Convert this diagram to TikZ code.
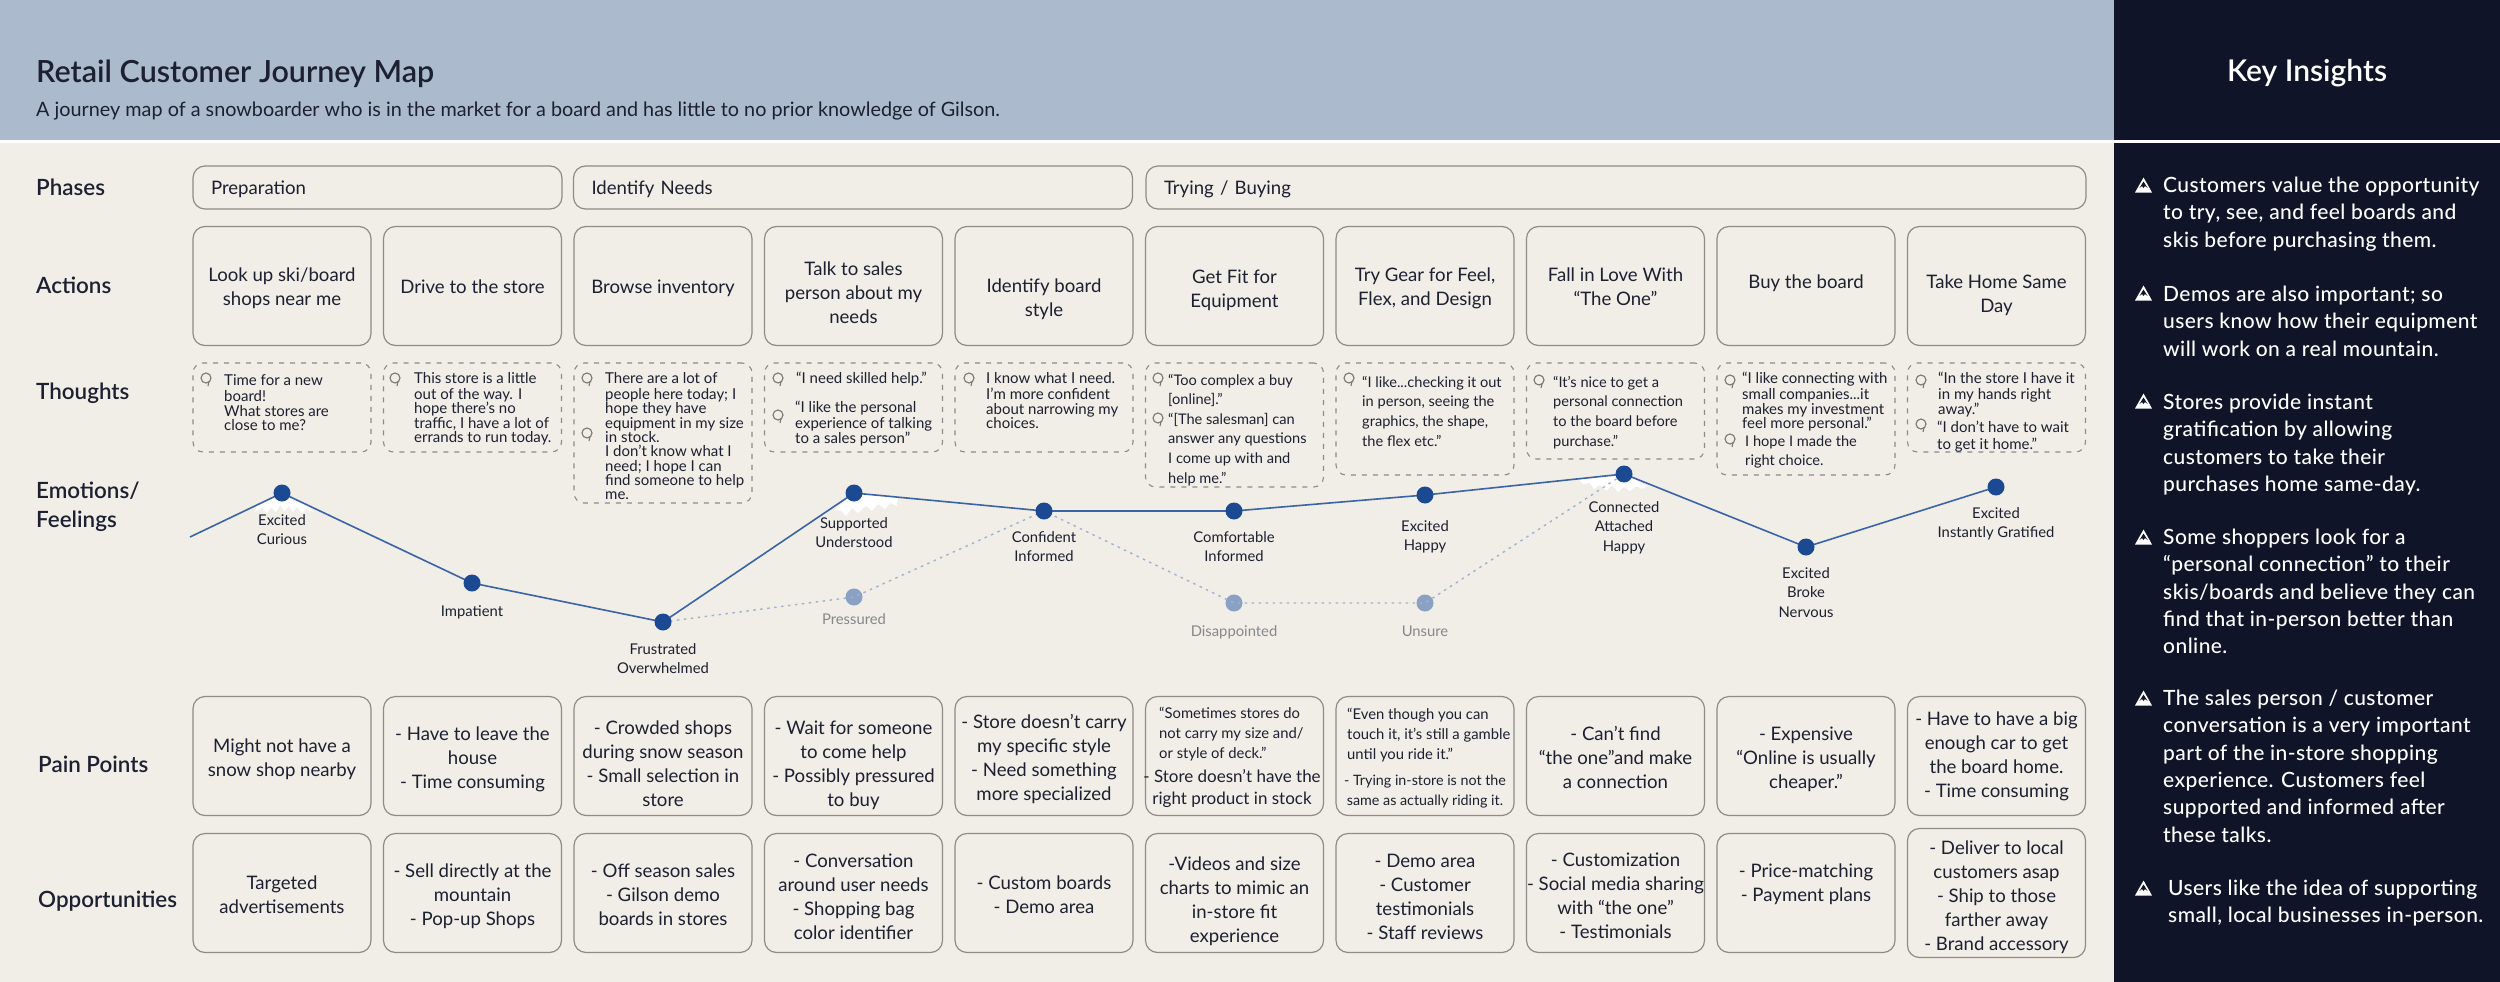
\documentclass[tikz,border=0pt]{standalone}
\usepackage{fontspec}
\setmainfont{Lato}
\newfontfamily\medfont{Lato Medium}
\newfontfamily\semifont{Lato Semibold}
\usetikzlibrary{backgrounds}
\definecolor{hdr}{HTML}{ABBBCD}
\definecolor{paper}{HTML}{F1EDE7}
\definecolor{navy}{HTML}{101428}
\definecolor{ink}{HTML}{1C2030}
\definecolor{edgegrey}{HTML}{8E8C87}
\definecolor{jline}{HTML}{3A64A6}
\definecolor{jdot}{HTML}{1B4A92}
\definecolor{pdot}{HTML}{8BA1C4}
\definecolor{pline}{HTML}{9FB2CF}
\definecolor{plabel}{HTML}{85888E}
\tikzset{
  x=1pt,y=-1pt,
  cardbox/.style={draw=edgegrey,line width=1.2pt,rounded corners=12pt,minimum width=178pt,minimum height=119pt,inner sep=0pt,align=center,text=ink,font=\fontsize{18.6}{24}\selectfont},
  phasebox/.style={draw=edgegrey,line width=1.2pt,rounded corners=12pt,minimum height=43pt,inner ysep=0pt,inner xsep=18pt,align=left,text=ink,font=\fontsize{18.6}{24}\selectfont},
  thoughtbox/.style={draw=edgegrey,line width=1.1pt,rounded corners=10pt,dash pattern=on 5pt off 6pt,minimum width=178pt,inner sep=0pt},
  dotdark/.style={circle,fill=jdot,minimum size=17pt,inner sep=0pt},
  dotpale/.style={circle,fill=pdot,minimum size=17pt,inner sep=0pt},
  jlink/.style={draw=jline,line width=1.6pt},
  plink/.style={draw=pline,line width=1.4pt,dash pattern=on 2.5pt off 4.5pt},
  rowlabel/.style={anchor=west,inner sep=0pt,text=ink,font=\semifont\fontsize{22.4}{24}\selectfont},
  snowcap/.style={fill=white,draw=none}
}
% card: vertical text offset (px, + is down), name, x, y, text
\newlength\cardtop\newlength\cardbot
\newcommand\card[5]{%
  \ifdim #1pt>0pt \setlength\cardtop{\dimexpr 16.8pt+2\dimexpr #1pt\relax\relax}\setlength\cardbot{7.2pt}%
  \else \setlength\cardtop{16.8pt}\setlength\cardbot{\dimexpr 7.2pt-2\dimexpr #1pt\relax\relax}\fi
  \node[cardbox] (#2) at (#3,#4) {\rule{0pt}{\cardtop}#5\rule[-\cardbot]{0pt}{\cardbot}};}
\newcommand\txtL[6]{\node[anchor=north west,inner sep=0pt,align=left,text=ink,yshift={(0.7*#5-0.4*#4)*1pt},font={\fontsize{#4}{#5}\selectfont}] (#1) at (#2,#3) {\strut #6};}
\newcommand\txtC[6]{\node[anchor=north,inner sep=0pt,align=center,text=ink,yshift={(0.7*#5-0.4*#4)*1pt},font={\fontsize{#4}{#5}\selectfont}] (#1) at (#2,#3) {\strut #6};}
\newcommand\bubble[2]{\draw[edgegrey!85!black,line width=1.1pt] (#1,#2) circle (5pt); \draw[edgegrey!85!black,line width=1.1pt] (#1+3,#2+3.5) -- (#1+2,#2+8);}
\newcommand\peak[2]{\fill[white] (#1,#2-7.5) -- (#1+8.5,#2+7.5) -- (#1-8.5,#2+7.5) -- cycle;
  \fill[navy] (#1,#2-3.5) -- (#1+4,#2+3) -- (#1+1.5,#2+1) -- (#1,#2+3) -- (#1-1.5,#2+1) -- (#1-4,#2+3) -- cycle;}
\newcommand\insight[4]{\node[anchor=north west,inner sep=0pt,align=left,text=white,yshift=11pt,font={\medfont\fontsize{21}{27.4}\selectfont\addfontfeature{LetterSpace=2}}] (#1) at (#2,#3) {\strut #4};}
\begin{document}
\begin{tikzpicture}
\useasboundingbox (0,0) rectangle (2500,982);
% backdrop
\begin{pgfonlayer}{background}
\fill[paper] (0,0) rectangle (2114,982);
\fill[hdr] (0,0) rectangle (2114,140);
\fill[navy] (2114,0) rectangle (2500,982);
\fill[white] (0,140) rectangle (2500,143);
% snow caps
\fill[snowcap] (282,493) -- (309,506) -- (313,512) -- (306,509) -- (302,513) -- (297,507) -- (293,512) -- (289,506) -- (284,511) -- (280,505) -- (276,512) -- (271,507) -- (267,513) -- (262,508) -- (255,512) -- (257,505) -- cycle;
\fill[snowcap] (854,493) -- (898,497) -- (897,506) -- (890,503) -- (885,509) -- (878,504) -- (872,511) -- (866,506) -- (858,513) -- (852,508) -- (846,516) -- (840,510) -- (833,511) -- cycle;
\fill[snowcap] (1624,474) -- (1579,480) -- (1583,484) -- (1590,483) -- (1594,489) -- (1600,485) -- (1606,491) -- (1612,485) -- (1618,492) -- (1624,487) -- (1630,491) -- (1636,486) -- (1642,489) -- (1647,486) -- (1634,479) -- cycle;
\end{pgfonlayer}
% header
\node[anchor=west,inner sep=0pt,text=ink,font=\semifont\fontsize{30.5}{34}\selectfont] (title) at (36,74) {Retail Customer Journey Map};
\node[anchor=west,inner sep=0pt,text=ink,font=\fontsize{19.8}{24}\selectfont] (subtitle) at (36,111) {A journey map of a snowboarder who is in the market for a board and has little to no prior knowledge of Gilson.};
\node[inner sep=0pt,text=white,font=\semifont\fontsize{30}{34}\selectfont] (keyhead) at (2307,73) {Key Insights};
% row labels
\node[rowlabel] (lphases) at (36,187.5) {Phases};
\node[rowlabel] (lactions) at (36,285) {Actions};
\node[rowlabel] (lthoughts) at (36,393.5) {Thoughts};
\node[rowlabel] (lemotions) at (36,491) {Emotions/};
\node[rowlabel] (lfeelings) at (36,521.5) {Feelings};
\node[rowlabel] (lpain) at (38,764) {Pain Points};
\node[rowlabel] (lopp) at (38,901) {Opportunities};
% phases
\node[phasebox,text width=333pt] (ph1) at (377.5,187.5) {\rule{0pt}{19pt}Preparation\rule[-5pt]{0pt}{5pt}};
\node[phasebox,text width=523pt] (ph2) at (853,187.5) {\rule{0pt}{19pt}Identify Needs\rule[-5pt]{0pt}{5pt}};
\node[phasebox,text width=904pt] (ph3) at (1616,187.5) {\rule{0pt}{19pt}Trying / Buying\rule[-5pt]{0pt}{5pt}};
% actions
\card{3}{a1}{282}{286}{Look up ski/board\\shops near me}
\card{3}{a2}{472.5}{286}{Drive to the store}
\card{3}{a3}{663}{286}{Browse inventory}
\card{9}{a4}{853.5}{286}{Talk to sales\\person about my\\needs}
\card{14}{a5}{1044}{286}{Identify board\\style}
\card{4.5}{a6}{1234.5}{286}{Get Fit for\\Equipment}
\card{3}{a7}{1425}{286}{Try Gear for Feel,\\Flex, and Design}
\card{3}{a8}{1615.5}{286}{Fall in Love With\\“The One”}
\card{-2.5}{a9}{1806}{286}{Buy the board}
\card{9.5}{a10}{1996.5}{286}{Take Home Same\\Day}
% thoughts boxes
\node[thoughtbox,minimum height=89pt] (t1) at (282,407.5) {};
\node[thoughtbox,minimum height=89pt] (t2) at (472.5,407.5) {};
\node[thoughtbox,minimum height=140pt] (t3) at (663,433) {};
\node[thoughtbox,minimum height=89pt] (t4) at (853.5,407.5) {};
\node[thoughtbox,minimum height=89pt] (t5) at (1044,407.5) {};
\node[thoughtbox,minimum height=124pt] (t6) at (1234.5,425) {};
\node[thoughtbox,minimum height=112pt] (t7) at (1425,419) {};
\node[thoughtbox,minimum height=96pt] (t8) at (1615.5,411) {};
\node[thoughtbox,minimum height=112pt] (t9) at (1806,419) {};
\node[thoughtbox,minimum height=89pt] (t10) at (1996.5,407.5) {};
% thoughts text
\txtL{q1}{224}{378.5}{15}{14.3}{Time for a new\\board!\\What stores are\\close to me?}
\txtL{q2}{414}{376}{15}{14.3}{This store is a little\\out of the way. I\\hope there’s no\\traffic, I have a lot of\\errands to run today.}
\txtL{q3}{605}{376}{15}{14.3}{There are a lot of\\people here today; I\\hope they have\\equipment in my size\\in stock.\\I don’t know what I\\need; I hope I can\\find someone to help\\me.}
\txtL{q4a}{796}{376}{15}{14.3}{“I need skilled help.”}
\txtL{q4b}{795}{405}{15}{14.3}{“I like the personal\\experience of talking\\to a sales person”}
\txtL{q5}{986}{376}{15}{14.3}{I know what I need.\\I’m more confident\\about narrowing my\\choices.}
\txtL{q6a}{1168}{379}{14.6}{19.7}{“Too complex a buy\\{}[online].”}
\txtL{q6b}{1168}{418}{14.6}{19.7}{“[The salesman] can\\answer any questions\\I come up with and\\help me.”}
\txtL{q7}{1362}{381}{14.6}{19.7}{“I like...checking it out\\in person, seeing the\\graphics, the shape,\\the flex etc.”}
\txtL{q8}{1553}{381}{14.6}{19.7}{“It’s nice to get a\\personal connection\\to the board before\\purchase.”}
\txtL{q9a}{1742}{376}{15}{14.3}{“I like connecting with\\small companies...it\\makes my investment\\feel more personal.”}
\txtL{q9b}{1745}{440}{14.6}{19.7}{I hope I made the\\right choice.}
\txtL{q10a}{1938}{376}{15}{14.3}{“In the store I have it\\in my hands right\\away.”}
\txtL{q10b}{1937}{425}{15}{14.3}{“I don’t have to wait\\to get it home.”}
\bubble{206}{378}\bubble{395}{378}\bubble{587}{378}\bubble{587}{433}\bubble{778}{378}\bubble{778}{415}\bubble{969}{378}\bubble{1158}{378}\bubble{1158}{418}\bubble{1349}{378}\bubble{1539}{380}\bubble{1730}{380}\bubble{1730}{439}\bubble{1921}{380}\bubble{1921}{424}
% journey nodes
\node[dotdark] (n1) at (282,493) {};
\node[dotdark] (n2) at (472,583) {};
\node[dotdark] (n3) at (663,622) {};
\node[dotdark] (n4) at (854,493) {};
\node[dotdark] (n5) at (1044,511) {};
\node[dotdark] (n6) at (1234,511) {};
\node[dotdark] (n7) at (1425,495) {};
\node[dotdark] (n8) at (1624,474) {};
\node[dotdark] (n9) at (1806,547) {};
\node[dotdark] (n10) at (1996,487) {};
\coordinate (jstart) at (190,537);
\begin{pgfonlayer}{background}
\node[dotpale] (p4) at (854,597) {};
\node[dotpale] (p6) at (1234,603) {};
\node[dotpale] (p7) at (1425,603) {};
\draw[plink] (n3.center) -- (p4.center) -- (n5.center) -- (p6.center) -- (p7.center) -- (n8.center);
\draw[jlink] (jstart) -- (n1.center) -- (n2.center) -- (n3.center) -- (n4.center) -- (n5.center) -- (n6.center) -- (n7.center) -- (n8.center) -- (n9.center) -- (n10.center);
\end{pgfonlayer}
% emotion labels
\txtC{e1}{282}{519}{14.8}{19.8}{Excited\\Curious}
\txtC{e2}{472}{610}{14.8}{19.8}{Impatient}
\txtC{e3}{663}{648}{14.8}{19.8}{Frustrated\\Overwhelmed}
\txtC{e4}{854}{522}{14.8}{19.8}{Supported\\Understood}
\txtC{e5}{1044}{536}{14.8}{19.8}{Confident\\Informed}
\txtC{e6}{1234}{536}{14.8}{19.8}{Comfortable\\Informed}
\txtC{e7}{1425}{525}{14.8}{19.8}{Excited\\Happy}
\txtC{e8}{1624}{506}{14.8}{19.8}{Connected\\Attached\\Happy}
\txtC{e9}{1806}{572}{14.8}{19.8}{Excited\\Broke\\Nervous}
\txtC{e10}{1996}{512}{14.8}{19.8}{Excited\\Instantly Gratified}
\node[anchor=north,inner sep=0pt,text=plabel,yshift=8pt,font={\fontsize{14.8}{19.8}\selectfont}] (lp4) at (854,618) {\strut Pressured};
\node[anchor=north,inner sep=0pt,text=plabel,yshift=8pt,font={\fontsize{14.8}{19.8}\selectfont}] (lp6) at (1234,630) {\strut Disappointed};
\node[anchor=north,inner sep=0pt,text=plabel,yshift=8pt,font={\fontsize{14.8}{19.8}\selectfont}] (lp7) at (1425,630) {\strut Unsure};
% pain points
\card{3.5}{b1}{282}{756}{Might not have a\\snow shop nearby}
\card{3.5}{b2}{472.5}{756}{- Have to leave the\\house\\- Time consuming}
\card{9.5}{b3}{663}{756}{- Crowded shops\\during snow season\\- Small selection in\\store}
\card{9.5}{b4}{853.5}{756}{- Wait for someone\\to come help\\- Possibly pressured\\to buy}
\card{3.5}{b5}{1044}{756}{- Store doesn’t carry\\my specific style\\- Need something\\more specialized}
\node[cardbox] (b6) at (1234.5,756) {};
\node[cardbox] (b7) at (1425,756) {};
\card{3.5}{b8}{1615.5}{756}{- Can’t find\\“the one”and make\\a connection}
\card{3.5}{b9}{1806}{756}{- Expensive\\“Online is usually\\cheaper.”}
\card{1}{b10}{1996.5}{756}{- Have to have a big\\enough car to get\\the board home.\\- Time consuming}
\txtL{b6a}{1159}{712.5}{14.8}{19.8}{“Sometimes stores do\\not carry my size and/\\or style of deck.”}
\txtC{b6b}{1232}{775}{17}{22}{- Store doesn’t have the\\right product in stock}
\txtL{b7a}{1347}{713.5}{14.8}{19.8}{“Even though you can\\touch it, it’s still a gamble\\until you ride it.”}
\txtC{b7b}{1425}{780}{14.3}{19.8}{- Trying in-store is not the\\same as actually riding it.}
% opportunities
\card{3.5}{c1}{282}{893}{Targeted\\advertisements}
\card{3.5}{c2}{472.5}{893}{- Sell directly at the\\mountain\\- Pop-up Shops}
\card{3.5}{c3}{663}{893}{- Off season sales\\- Gilson demo\\boards in stores}
\card{5.5}{c4}{853.5}{893}{- Conversation\\around user needs\\- Shopping bag\\color identifier}
\card{3.5}{c5}{1044}{893}{- Custom boards\\- Demo area}
\card{8.5}{c6}{1234.5}{893}{-Videos and size\\charts to mimic an\\in-store fit\\experience}
\card{5.5}{c7}{1425}{893}{- Demo area\\- Customer\\testimonials\\- Staff reviews}
\card{4.5}{c8}{1615.5}{893}{- Customization\\- Social media sharing\\with “the one”\\- Testimonials}
\card{-8.5}{c9}{1806}{893}{- Price-matching\\- Payment plans}
\card{4.5}{c10}{1996.5}{893}{- Deliver to local\\customers asap\\- Ship to those\\farther away\\- Brand accessory}
% key insights
\peak{2143.5}{185}\peak{2143.5}{293}\peak{2143.5}{401}\peak{2143.5}{537}\peak{2143.5}{698}\peak{2143.5}{888}
\insight{k1}{2163}{184}{Customers value the opportunity\\to try, see, and feel boards and\\skis before purchasing them.}
\insight{k2}{2163}{293}{Demos are also important; so\\users know how their equipment\\will work on a real mountain.}
\insight{k3}{2163}{401}{Stores provide instant\\gratification by allowing\\customers to take their\\purchases home same-day.}
\insight{k4}{2163}{536}{Some shoppers look for a\\“personal connection” to their\\skis/boards and believe they can\\find that in-person better than\\online.}
\insight{k5}{2163}{697}{The sales person / customer\\conversation is a very important\\part of the in-store shopping\\experience. Customers feel\\supported and informed after\\these talks.}
\insight{k6}{2168}{887}{Users like the idea of supporting\\small, local businesses in-person.}
\end{tikzpicture}
\end{document}
